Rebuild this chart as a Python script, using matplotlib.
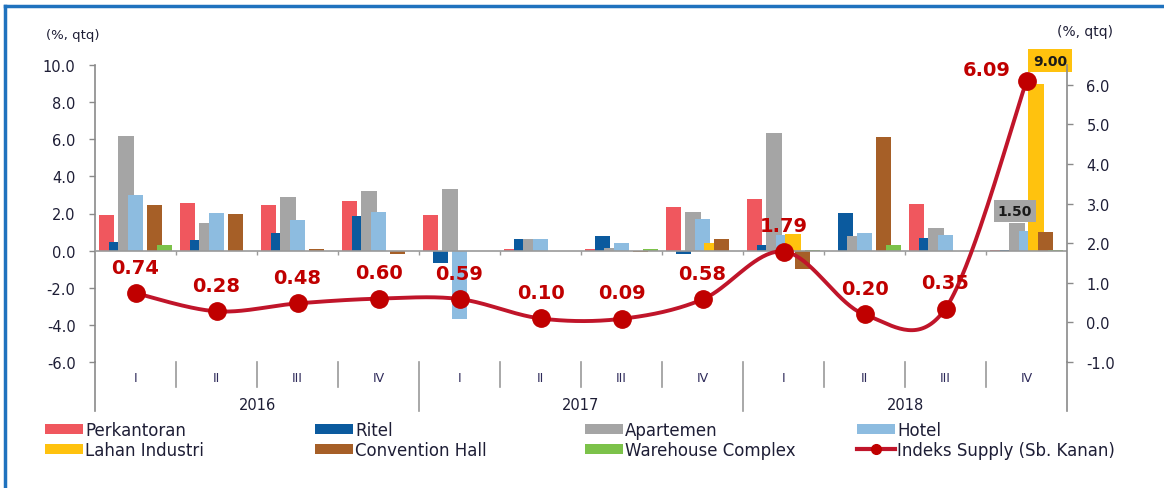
import numpy as np
import matplotlib
matplotlib.use('Agg')
import matplotlib.pyplot as plt
from matplotlib.lines import Line2D
from matplotlib.patches import Patch
import matplotlib.transforms as mtrans

# ---------------- data ----------------
quarters = ['I', 'II', 'III', 'IV'] * 3
years = ['2016', '2017', '2018']
series_names = ['Perkantoran', 'Ritel', 'Apartemen', 'Hotel',
                'Lahan Industri', 'Convention Hall', 'Warehouse Complex']
perkantoran = [1.9, 2.55, 2.45, 2.7, 1.9, 0.1, 0.1, 2.35, 2.8, 0.0, 2.5, 0.05]
ritel = [0.45, 0.55, 0.95, 1.85, -0.65, 0.6, 0.8, -0.2, 0.3, 2.05, 0.7, 0.05]
apartemen = [6.15, 1.5, 2.9, 3.2, 3.3, 0.6, 0.15, 2.1, 6.35, 0.8, 1.2, 1.5]
hotel = [3.0, 2.05, 1.65, 2.1, -3.7, 0.65, 0.4, 1.7, 0.85, 0.95, 0.85, 1.05]
lahan_industri = [0, 0, 0, 0, 0, 0, 0, 0.4, 0.9, 0, 0, 9.0]
convention_hall = [2.45, 2.0, 0.1, -0.2, 0, 0, -0.1, 0.6, -1.0, 6.1, 0, 1.0]
warehouse = [0.3, 0, 0, 0, 0, 0, 0.1, 0, 0.05, 0.3, 0, 0.05]
indeks_supply = [0.74, 0.28, 0.48, 0.60, 0.59, 0.10, 0.09, 0.58, 1.79, 0.20, 0.35, 6.09]
indeks_name = 'Indeks Supply (Sb. Kanan)'

colors = ['#F0575E', '#0B5A9E', '#A5A5A5', '#8DBCE0', '#FFC20E', '#A65F27', '#7CC24A']
line_color = '#C0152A'
text_dark = '#1E1E36'

plt.rcParams['font.family'] = ['DejaVu Sans']

W, H = 1164, 489
fig = plt.figure(figsize=(W / 100, H / 100), dpi=100)

# plot area in pixel coords
x0, x1 = 95, 1067
ytop, ybot = 66, 363
ax = fig.add_axes([x0 / W, 1 - ybot / H, (x1 - x0) / W, (ybot - ytop) / H])
ax2 = ax.twinx()

n = len(quarters)
xs = np.arange(n)
ax.set_xlim(-0.5, n - 0.5)
ax.set_ylim(-6, 10)
ax2.set_ylim(-1, 6.5)

# bars
all_series = [perkantoran, ritel, apartemen, hotel, lahan_industri, convention_hall, warehouse]
step = 0.1176
width = 0.186
for j, (vals, c) in enumerate(zip(all_series, colors)):
    ax.bar(xs + (j - 3) * step, vals, width=width, color=c, zorder=2 + j * 0.01, linewidth=0)

# zero line + small ticks
ax.axhline(0, color='#9A9A9A', lw=1.2, zorder=3)
ax.vlines(np.arange(n - 1) + 0.5, -0.25, 0, color='#9A9A9A', lw=1.0, zorder=3)

# label boxes
ax.annotate('9.00', xy=(11 + 1 * step, lahan_industri[11]), xytext=(14, 23),
            textcoords='offset pixels', ha='center', va='center', fontsize=10,
            fontweight='bold', color='#1a1a1a', zorder=10,
            bbox=dict(boxstyle='square,pad=0.35', fc='#FFC20E', ec='none'))
ax.annotate('1.50', xy=(11 - 1 * step, apartemen[11]), xytext=(-2, 12),
            textcoords='offset pixels', ha='center', va='center', fontsize=10,
            fontweight='bold', color='#1a1a1a', zorder=10,
            bbox=dict(boxstyle='square,pad=0.3', fc='#A5A5A5', ec='none'))


# smoothed line (Excel style bezier through the data points)
def smooth(xv, yv, m=40):
    P = np.column_stack([xv, yv]).astype(float)
    Pe = np.vstack([P[0], P, P[-1]])
    out = []
    for i in range(len(P) - 1):
        p0, p1, p2, p3 = Pe[i], Pe[i + 1], Pe[i + 2], Pe[i + 3]
        c1 = p1 + (p2 - p0) / 6
        c2 = p2 - (p3 - p1) / 6
        t = np.linspace(0, 1, m)[:, None]
        seg = (1 - t) ** 3 * p1 + 3 * (1 - t) ** 2 * t * c1 + 3 * (1 - t) * t ** 2 * c2 + t ** 3 * p2
        out.append(seg if i == 0 else seg[1:])
    return np.vstack(out)


curve = smooth(xs, indeks_supply)
ax2.plot(curve[:, 0], curve[:, 1], color=line_color, lw=2.8, zorder=5, solid_capstyle='round')
ax2.plot(xs, indeks_supply, 'o', color='#C00000', ms=12.5, zorder=6)
for i, v in enumerate(indeks_supply):
    off = (0, 26) if i != n - 1 else (-40, 12)
    ax2.annotate(f'{v:.2f}', xy=(i, v), xytext=off, textcoords='offset pixels',
                 ha='center', va='center', fontsize=14, fontweight='bold', color='#C00000', zorder=7)

ax.set_zorder(1)
ax2.set_zorder(2)
ax2.patch.set_visible(False)

# axes styling
for a in (ax, ax2):
    for s in ('top', 'bottom'):
        a.spines[s].set_visible(False)
ax.spines['right'].set_visible(False)
ax2.spines['left'].set_visible(False)
ax.spines['left'].set_color('#8A8A8A')
ax2.spines['right'].set_color('#8A8A8A')
ax.spines['left'].set_linewidth(1.2)
ax2.spines['right'].set_linewidth(1.2)

ax.set_yticks(np.arange(-6, 10.1, 2))
ax.set_yticklabels([f'{v:.1f}' for v in np.arange(-6, 10.1, 2)])
ax2.set_yticks(np.arange(-1, 6.1, 1))
ax2.set_yticklabels([f'{v:.1f}' for v in np.arange(-1, 6.1, 1)])
ax.tick_params(axis='y', direction='out', length=4, width=1, color='#8A8A8A',
               labelsize=10.5, labelcolor=text_dark, pad=10)
ax2.tick_params(axis='y', direction='out', length=4, width=1, color='#8A8A8A',
                labelsize=10.5, labelcolor=text_dark, pad=10)
ax.set_xticks([])

# category axis below plot area
tr = mtrans.blended_transform_factory(ax.transData, ax.transAxes)
ph = ybot - ytop
ext_small = -25 / ph
ext_big = -49 / ph
for b in np.arange(n - 1) + 0.5:
    big = b in (3.5, 7.5)
    ax.plot([b, b], [0, ext_big if big else ext_small], transform=tr, color='#9A9A9A',
            lw=1.2, clip_on=False)
ax.plot([-0.5, -0.5], [0, ext_big], transform=tr, color='#8A8A8A', lw=1.2, clip_on=False)
ax.plot([n - 0.5, n - 0.5], [0, ext_big], transform=tr, color='#8A8A8A', lw=1.2, clip_on=False)
for i, q in enumerate(quarters):
    ax.text(i, -16 / ph, q, transform=tr, ha='center', va='center', fontsize=9, color='#2E2A5A')
for k, yr in enumerate(years):
    ax.text(4 * k + 1.5, -42 / ph, yr, transform=tr, ha='center', va='center', fontsize=10.5,
            color=text_dark)

# unit labels
fig.text(73 / W, 1 - 36 / H, '(%, qtq)', ha='center', va='center', fontsize=9.5, color=text_dark)
fig.text(1085 / W, 1 - 32 / H, '(%, qtq)', ha='center', va='center', fontsize=10, color=text_dark)

# legend (4 columns x 2 rows)
handles = [Patch(facecolor=c, edgecolor='none') for c in colors]
handles.append(Line2D([0], [0], color=line_color, lw=3, marker='o', ms=7, markerfacecolor='#C00000',
                      markeredgecolor='#C00000'))
labels = series_names + [indeks_name]
col_x = [45, 315, 585, 857]
for c in range(4):
    hs = [handles[c], handles[c + 4]]
    ls = [labels[c], labels[c + 4]]
    leg = fig.legend(hs, ls, loc='upper left', bbox_to_anchor=(col_x[c] / W, 1 - 422 / H),
                     frameon=False, fontsize=12, handlelength=2.3, handleheight=0.6,
                     handletextpad=0.1, borderpad=0, borderaxespad=0, labelspacing=0.12,
                     labelcolor=text_dark)

# blue frame
fig.add_artist(Line2D([5 / W, 1], [1 - 7 / H, 1 - 7 / H], color='#1F72BE', lw=2.5,
                      transform=fig.transFigure))
fig.add_artist(Line2D([5 / W, 5 / W], [0, 1 - 7 / H], color='#1F72BE', lw=2.5,
                      transform=fig.transFigure))

fig.savefig('out.png', dpi=100)
